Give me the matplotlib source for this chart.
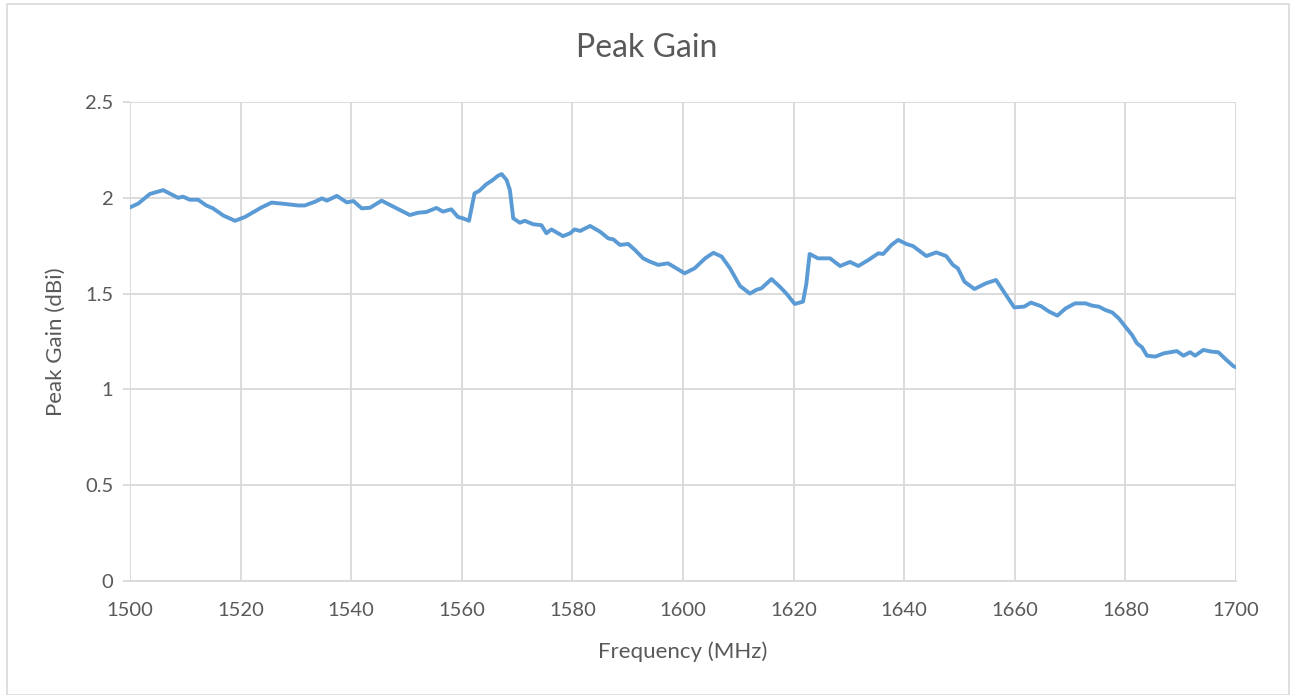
import matplotlib
matplotlib.use("Agg")
import matplotlib.pyplot as plt
from matplotlib.patches import Rectangle

# Frequency (MHz) and peak gain (dBi)
freq = [1500, 1501.5, 1503.6, 1506, 1508.7, 1509.6, 1510.8, 1512.3, 1513.8, 1515,
        1516.9, 1519, 1520.8, 1523.8, 1525.6, 1528, 1530.4, 1531.6, 1533.5, 1534.7,
        1535.6, 1537.4, 1539.2, 1540.4, 1541.9, 1543.4, 1545.5, 1548.2, 1550.6, 1552.1,
        1553.6, 1555.4, 1556.6, 1558.1, 1559.3, 1560.2, 1561.3, 1562.3, 1563.2, 1564.4,
        1565.6, 1566.5, 1567.2, 1568.1, 1568.7, 1569.3, 1570.5, 1571.4, 1572.9, 1574.4,
        1575.3, 1576.2, 1578.3, 1579.6, 1580.4, 1581.4, 1583.2, 1585, 1586.5, 1587.4,
        1588.6, 1590.1, 1591.3, 1592.8, 1594, 1595.5, 1597.3, 1598.8, 1600.3, 1602.1,
        1604, 1605.5, 1607, 1608.5, 1610.3, 1612.1, 1613.3, 1614.2, 1616, 1617.5,
        1618.7, 1620.2, 1621.7, 1622.3, 1622.9, 1624.4, 1626.6, 1628.4, 1630.2, 1631.7,
        1633.5, 1635.3, 1636.2, 1637.7, 1638.9, 1640.4, 1641.6, 1644, 1645.8, 1647.6,
        1648.8, 1649.7, 1650.9, 1652.7, 1654.8, 1656.6, 1657.8, 1659.9, 1661.7, 1662.9,
        1664.7, 1666.2, 1667.7, 1669.2, 1670.9, 1672.8, 1674, 1675.2, 1676.4, 1677.6,
        1678.8, 1680, 1681.2, 1682.1, 1683, 1683.9, 1685.4, 1686.9, 1689.3, 1690.5,
        1691.7, 1692.6, 1694.1, 1695.6, 1696.8, 1698.3, 1699.5, 1700]
gain = [1.95, 1.97, 2.02, 2.04, 2.00, 2.006, 1.99, 1.99, 1.96, 1.945,
        1.907, 1.88, 1.90, 1.95, 1.975, 1.968, 1.96, 1.96, 1.98, 1.997,
        1.985, 2.01, 1.976, 1.983, 1.945, 1.948, 1.985, 1.945, 1.91, 1.922,
        1.926, 1.947, 1.928, 1.94, 1.90, 1.893, 1.88, 2.023, 2.037, 2.07,
        2.093, 2.114, 2.124, 2.093, 2.04, 1.893, 1.87, 1.88, 1.862, 1.857,
        1.815, 1.835, 1.80, 1.815, 1.835, 1.827, 1.853, 1.823, 1.788, 1.783,
        1.754, 1.759, 1.728, 1.684, 1.667, 1.65, 1.658, 1.632, 1.606, 1.632,
        1.684, 1.713, 1.693, 1.632, 1.54, 1.50, 1.52, 1.528, 1.576, 1.536,
        1.50, 1.446, 1.458, 1.55, 1.707, 1.684, 1.684, 1.644, 1.665, 1.644,
        1.675, 1.71, 1.707, 1.754, 1.78, 1.759, 1.748, 1.696, 1.715, 1.696,
        1.65, 1.632, 1.562, 1.524, 1.554, 1.571, 1.519, 1.428, 1.432, 1.453,
        1.435, 1.406, 1.385, 1.423, 1.449, 1.449, 1.437, 1.432, 1.414, 1.402,
        1.371, 1.327, 1.284, 1.24, 1.22, 1.176, 1.171, 1.188, 1.20, 1.176,
        1.194, 1.176, 1.206, 1.197, 1.194, 1.153, 1.122, 1.115]

x_ticks = list(range(1500, 1701, 20))
y_ticks = [0, 0.5, 1, 1.5, 2, 2.5]
y_labels = ["0", "0.5", "1", "1.5", "2", "2.5"]

text_color = "#595959"
grid_color = "#D9D9D9"

plt.rcParams["font.family"] = ["Lato", "DejaVu Sans"]

fig = plt.figure(figsize=(12.94, 6.95), dpi=100)
ax = fig.add_axes([130 / 1294, 114 / 695, 1106 / 1294, 479 / 695])

ax.plot(freq, gain, color="#5B9BD5", linewidth=2.8,
        solid_joinstyle="round", solid_capstyle="round")

ax.set_xlim(1500, 1700)
ax.set_ylim(0, 2.5)
ax.set_xticks(x_ticks)
ax.set_yticks(y_ticks)
ax.set_yticklabels(y_labels)
ax.grid(True, color=grid_color, linewidth=1.3)
ax.set_axisbelow(True)

for side in ["top", "right", "left"]:
    ax.spines[side].set_visible(False)
ax.spines["bottom"].set_color(grid_color)
ax.spines["bottom"].set_linewidth(1.3)

ax.tick_params(axis="x", length=0, pad=15, labelsize=14.5, labelcolor=text_color)
ax.tick_params(axis="y", length=5, width=1.3, color=grid_color, pad=7,
               labelsize=14.5, labelcolor=text_color)

ax.set_xlabel("Frequency (MHz)", fontsize=16, color=text_color, labelpad=16)
ax.set_ylabel("Peak Gain (dBi)", fontsize=16, color=text_color, labelpad=14)
fig.text(647 / 1294, 1 - 48 / 695, "Peak Gain", ha="center", va="center",
         fontsize=23, color=text_color)

# light chart border like the spreadsheet frame
fig.patches.append(Rectangle((7 / 1294, 0), 1282 / 1294, 1 - 4 / 695,
                             transform=fig.transFigure, fill=False,
                             edgecolor=grid_color, linewidth=1.2))

fig.savefig("out.png", dpi=100)
